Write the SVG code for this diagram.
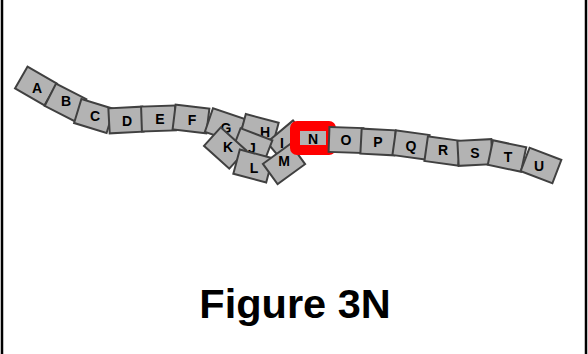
<svg xmlns="http://www.w3.org/2000/svg" width="588" height="354" viewBox="0 0 588 354">
<style>
.t rect{fill:#b3b3b3;stroke:#404040;stroke-width:2}
.t text{font-family:"Liberation Sans",Arial,sans-serif;font-weight:bold;font-size:14px;text-anchor:middle;fill:#000}
.n rect{fill:#b3b3b3;stroke:#ff0000;stroke-width:10}
.cap{font-family:"Liberation Sans",Arial,sans-serif;font-weight:bold;font-size:41.5px;text-anchor:middle;fill:#000}
</style>
<rect width="588" height="354" fill="#fff"/>
<g id="frame" stroke="#000" stroke-width="2.5">
<line x1="2" y1="0" x2="2" y2="354"/>
<line x1="586" y1="0" x2="586" y2="354"/>
</g>
<g id="connectors"/>
<g id="A" class="t"><rect x="-17" y="-12.5" width="34" height="25" transform="translate(36,86) rotate(30)"/><text x="37" y="93">A</text></g>
<g id="B" class="t"><rect x="-17" y="-12.5" width="34" height="25" transform="translate(65.5,102.5) rotate(27)"/><text x="66" y="106">B</text></g>
<g id="C" class="t"><rect x="-17" y="-12.5" width="34" height="25" transform="translate(94,116) rotate(17)"/><text x="95" y="121">C</text></g>
<g id="D" class="t"><rect x="-17" y="-12.5" width="34" height="25" transform="translate(126,120) rotate(-3)"/><text x="127" y="126">D</text></g>
<g id="E" class="t"><rect x="-17" y="-12.5" width="34" height="25" transform="translate(158.5,118.5) rotate(-2)"/><text x="160" y="124">E</text></g>
<g id="F" class="t"><rect x="-17" y="-12.5" width="34" height="25" transform="translate(191,119) rotate(7)"/><text x="192" y="125">F</text></g>
<g id="G" class="t"><rect x="-17" y="-12.5" width="34" height="25" transform="translate(225,125.5) rotate(19)"/><text x="226" y="133">G</text></g>
<g id="H" class="t"><rect x="-17" y="-12.5" width="34" height="25" transform="translate(259,130.5) rotate(15)"/><text x="265" y="137">H</text></g>
<g id="I" class="t"><rect x="-17" y="-12.5" width="34" height="25" transform="translate(288,141) rotate(-40)"/><text x="282" y="148">I</text></g>
<g id="J" class="t"><rect x="-17" y="-12.5" width="34" height="25" transform="translate(252,146) rotate(21)"/><text x="252" y="153">J</text></g>
<g id="K" class="t"><rect x="-17" y="-12.5" width="34" height="25" transform="translate(225,148) rotate(42)"/><text x="228" y="152">K</text></g>
<g id="L" class="t"><rect x="-17" y="-12.5" width="34" height="25" transform="translate(253,166) rotate(15)"/><text x="254" y="173">L</text></g>
<g id="M" class="t"><rect x="-17" y="-12.5" width="34" height="25" transform="translate(284,164) rotate(-36)"/><text x="284" y="166">M</text></g>
<g id="N" class="n t"><rect x="295" y="126" width="36" height="24" rx="2"/><text x="313" y="144">N</text></g>
<g id="O" class="t"><rect x="-17" y="-12.5" width="34" height="25" transform="translate(346,140) rotate(2)"/><text x="346" y="145">O</text></g>
<g id="P" class="t"><rect x="-17" y="-12.5" width="34" height="25" transform="translate(378,142) rotate(3)"/><text x="378" y="147">P</text></g>
<g id="Q" class="t"><rect x="-17" y="-12.5" width="34" height="25" transform="translate(411,145) rotate(8)"/><text x="411" y="151">Q</text></g>
<g id="R" class="t"><rect x="-17" y="-12.5" width="34" height="25" transform="translate(443,151) rotate(8)"/><text x="443" y="155">R</text></g>
<g id="S" class="t"><rect x="-17" y="-12.5" width="34" height="25" transform="translate(475,152.5) rotate(-3)"/><text x="475" y="158">S</text></g>
<g id="T" class="t"><rect x="-17" y="-12.5" width="34" height="25" transform="translate(507,156) rotate(12)"/><text x="508" y="162">T</text></g>
<g id="U" class="t"><rect x="-17" y="-12.5" width="34" height="25" transform="translate(541,165.5) rotate(21)"/><text x="539" y="171">U</text></g>
<text class="cap" x="295" y="318">Figure 3N</text>
</svg>
